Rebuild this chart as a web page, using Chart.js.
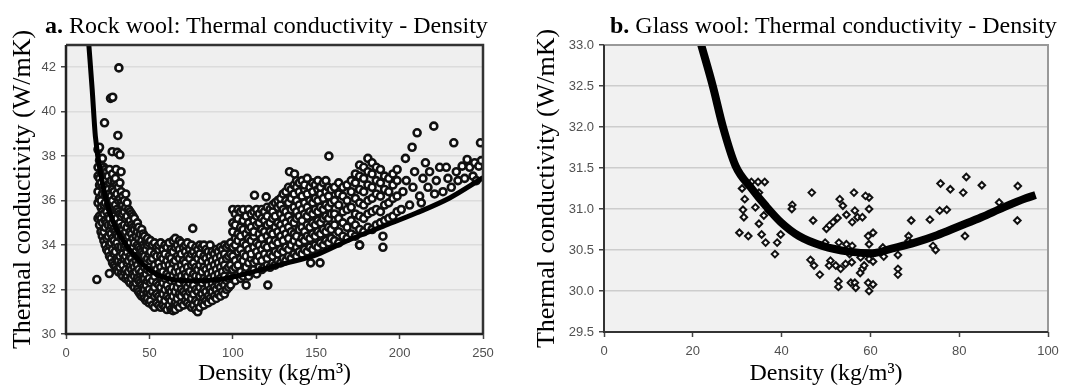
<!DOCTYPE html>
<html>
<head>
<meta charset="utf-8">
<script src="https://cdn.jsdelivr.net/npm/chart.js@4.4.0/dist/chart.umd.min.js"></script>
<style>
  html, body { margin: 0; padding: 0; background: #fff; }
  #wrap { position: relative; width: 1080px; height: 387px; overflow: hidden; }
  canvas { position: absolute; top: 0; }
  #cA { left: 0; width: 540px; height: 387px; }
  #cB { left: 515px; width: 565px; height: 387px; }
  .ttl { position: absolute; top: 13px; font-family: "Liberation Serif", "Times New Roman", serif;
         font-size: 24px; line-height: 24px; white-space: nowrap; color: #000; }
</style>
</head>
<body>
<div id="wrap">
  <canvas id="cA" width="540" height="387"></canvas>
  <canvas id="cB" width="565" height="387"></canvas>
  <div class="ttl" style="left:45px"><b>a.</b> Rock wool: Thermal conductivity - Density</div>
  <div class="ttl" style="left:610px"><b>b.</b> Glass wool: Thermal conductivity - Density</div>
</div>
<script>
// Теплопровідність мінвати (a) та скловати (b) залежно від густини.

const rockTicksX = [0, 50, 100, 150, 200, 250];
const rockTicksY = [30, 32, 34, 36, 38, 40, 42];
const glassTicksX = [0, 20, 40, 60, 80, 100];
const glassTicksY = [29.5, 30, 30.5, 31, 31.5, 32, 32.5, 33];

// Мінвата: колонки [густина, λ, λ, ...] — щільна хмара точок
const rockBranch = [
  [19.2, 35.2, 35.9, 36.4, 37.1, 37.5, 38.3],
  [20.1, 34.9, 35.3, 36.1, 36.7, 37.0, 37.8, 38.4],
  [21.0, 34.6, 35.2, 35.7, 36.0, 36.8, 37.3, 37.6],
  [21.8, 34.4, 35.0, 35.5, 36.3, 36.6, 37.2, 37.9],
  [22.7, 34.2, 34.6, 35.4, 35.8, 36.5, 37.0, 37.5],
  [23.5, 34.0, 34.8, 35.1, 35.9, 36.3, 36.9, 37.4],
  [24.4, 33.8, 34.3, 35.0, 35.5, 36.2, 36.6, 37.3],
  [25.3, 33.7, 34.4, 34.9, 35.3, 35.8, 36.5, 37.1],
  [26.1, 33.5, 34.0, 34.6, 35.2, 35.7, 36.3, 36.8, 37.4],
  [27.0, 33.4, 34.1, 34.5, 34.9, 35.6, 36.2, 36.9],
  [27.9, 33.2, 33.8, 34.3, 35.0, 35.4, 36.0, 36.5, 37.2],
  [28.8, 33.1, 33.6, 34.2, 34.7, 35.3, 35.7, 36.4, 36.9],
  [29.6, 33.0, 33.7, 34.0, 34.6, 35.1, 35.8, 36.2, 37.0],
  [30.5, 32.9, 33.4, 34.1, 34.5, 35.2, 35.6, 36.3, 36.7],
  [31.4, 32.8, 33.3, 33.9, 34.4, 34.9, 35.5, 36.0, 36.6],
  [32.3, 33.0, 33.5, 33.8, 34.6, 35.0, 35.4, 36.1, 36.8],
  [33.1, 32.7, 33.2, 33.9, 34.3, 34.8, 35.3, 35.9, 36.4],
  [34.0, 32.6, 33.1, 33.6, 34.2, 34.7, 35.4, 35.8, 36.2],
  [34.9, 32.8, 33.4, 33.9, 34.5, 34.9, 35.5, 36.0],
  [35.8, 32.5, 32.9, 33.5, 34.0, 34.6, 35.2, 35.7, 36.3],
  [36.6, 32.6, 33.2, 33.7, 34.3, 34.8, 35.3, 35.9],
  [37.5, 32.4, 32.8, 33.3, 33.9, 34.4, 35.0, 35.6],
  [38.4, 32.3, 33.0, 33.5, 34.1, 34.6, 35.1, 35.5],
  [39.3, 32.5, 32.9, 33.4, 33.8, 34.5, 34.9, 35.4],
  [40.1, 32.2, 32.7, 33.2, 33.9, 34.3, 34.8, 35.3],
  [41.0, 32.1, 32.6, 33.0, 33.6, 34.1, 34.7, 35.2],
  [41.9, 32.3, 32.8, 33.3, 33.7, 34.4, 34.9],
  [42.8, 32.0, 32.5, 33.1, 33.5, 34.0, 34.6, 35.0],
  [43.6, 31.9, 32.4, 32.9, 33.4, 33.9, 34.3, 34.8],
  [44.5, 31.8, 32.3, 32.7, 33.3, 33.8, 34.5],
  [45.4, 31.7, 32.2, 32.8, 33.2, 33.7, 34.2, 34.7],
  [46.3, 31.8, 32.1, 32.6, 33.1, 33.6, 34.0, 34.5],
  [47.1, 31.6, 32.0, 32.5, 33.0, 33.5, 33.9, 34.4],
  [48.0, 31.5, 32.2, 32.7, 33.2, 33.8, 34.2],
  [48.9, 31.6, 31.9, 32.4, 32.9, 33.4, 34.0, 34.3],
  [49.8, 31.4, 32.0, 32.5, 33.0, 33.6, 34.1],
];
const rockValley = [
  [50.7, 31.5, 31.8, 32.3, 32.8, 33.3, 33.7, 34.2],
  [51.9, 31.3, 31.9, 32.4, 32.9, 33.4, 34.0],
  [53.1, 31.2, 31.7, 32.1, 32.6, 33.1, 33.6, 34.1],
  [54.4, 31.4, 31.8, 32.3, 32.9, 33.5, 33.9],
  [55.6, 31.3, 31.7, 32.2, 32.7, 33.2, 33.8, 34.0],
  [56.8, 31.2, 31.6, 32.1, 32.6, 33.0, 33.5, 34.1],
  [58.1, 31.3, 31.8, 32.3, 32.8, 33.4, 33.8],
  [59.3, 31.2, 31.5, 32.0, 32.5, 33.1, 33.6, 34.0],
  [60.5, 31.1, 31.7, 32.2, 32.7, 33.3, 33.9],
  [61.8, 31.3, 31.6, 32.0, 32.6, 33.1, 33.5, 34.1],
  [63.0, 31.1, 31.5, 31.9, 32.4, 32.9, 33.4, 33.8],
  [64.2, 31.05, 31.7, 32.1, 32.6, 33.2, 33.7, 34.2],
  [65.5, 31.1, 31.4, 31.9, 32.4, 32.8, 33.3, 33.9, 34.3],
  [66.7, 31.3, 31.6, 32.1, 32.5, 33.0, 33.5, 34.0],
  [67.9, 31.2, 31.8, 32.3, 32.8, 33.4, 33.8, 34.2],
  [69.1, 31.4, 31.7, 32.0, 32.6, 33.1, 33.6, 34.1],
  [70.4, 31.3, 31.9, 32.4, 32.9, 33.3, 33.9],
  [71.6, 31.5, 31.8, 32.2, 32.7, 33.2, 33.7, 34.0],
  [72.8, 31.4, 31.7, 32.1, 32.6, 33.0, 33.5, 34.1],
  [74.1, 31.3, 31.9, 32.3, 32.8, 33.4, 33.8],
  [75.3, 31.2, 31.6, 32.0, 32.5, 33.1, 33.6, 34.0],
  [76.5, 31.3, 31.8, 32.2, 32.7, 33.2, 33.7],
  [77.8, 31.1, 31.5, 32.0, 32.6, 33.0, 33.5, 33.9],
  [79.0, 31.0, 31.4, 31.9, 32.4, 32.9, 33.4, 33.8],
  [80.2, 31.2, 31.7, 32.1, 32.6, 33.1, 33.6, 34.0],
  [81.5, 31.4, 31.8, 32.3, 32.8, 33.3, 33.9],
  [82.7, 31.3, 31.6, 32.0, 32.5, 33.0, 33.5, 34.0],
  [83.9, 31.5, 31.9, 32.4, 32.9, 33.4, 33.8],
  [85.2, 31.4, 31.7, 32.2, 32.7, 33.2, 33.7],
  [86.4, 31.6, 32.0, 32.5, 33.0, 33.5, 34.0],
  [87.6, 31.5, 31.9, 32.3, 32.8, 33.3, 33.7],
  [88.9, 31.7, 32.1, 32.6, 33.1, 33.6],
  [90.1, 31.6, 32.0, 32.4, 32.9, 33.4, 33.8],
  [91.3, 31.8, 32.2, 32.7, 33.2, 33.7],
  [92.6, 31.7, 32.1, 32.5, 33.0, 33.5, 33.9],
  [93.8, 31.9, 32.3, 32.8, 33.3, 33.8],
  [95.0, 31.8, 32.2, 32.6, 33.1, 33.6, 34.0],
  [96.3, 32.0, 32.4, 32.9, 33.4, 33.9],
  [97.5, 32.1, 32.5, 33.0, 33.5, 34.0],
  [98.7, 32.2, 32.6, 33.1, 33.6, 34.1],
];
const rockRight = [
  [100.0, 32.5, 32.9, 33.5, 33.9, 34.6, 35.0, 35.6],
  [101.5, 32.4, 33.0, 33.3, 34.0, 34.3, 34.9, 35.4],
  [103.1, 32.7, 33.1, 33.7, 34.2, 34.5, 35.2, 35.6],
  [104.7, 32.5, 32.8, 33.4, 33.8, 34.4, 34.8, 35.5],
  [106.2, 32.6, 33.3, 33.6, 34.1, 34.7, 35.1, 35.6],
  [107.9, 32.8, 33.0, 33.5, 34.0, 34.5, 35.3],
  [109.5, 32.6, 33.2, 33.8, 34.3, 34.7, 35.0, 35.6],
  [111.0, 32.8, 33.4, 33.6, 34.2, 34.8, 35.4],
  [112.6, 32.9, 33.2, 33.9, 34.4, 34.6, 35.1, 35.5],
  [114.3, 32.7, 33.3, 33.7, 34.1, 34.9, 35.3, 35.6],
  [115.8, 33.0, 33.5, 34.0, 34.5, 35.0, 35.4],
  [117.4, 32.9, 33.3, 33.8, 34.3, 34.7, 35.2, 35.6],
  [119.0, 33.0, 33.6, 34.0, 34.6, 35.1, 35.5],
  [120.6, 33.1, 33.4, 33.9, 34.4, 34.9, 35.3, 35.7],
  [122.3, 33.0, 33.6, 34.2, 34.6, 35.0, 35.6],
  [123.9, 33.2, 33.5, 34.0, 34.5, 35.2, 35.5, 35.8],
  [125.4, 33.1, 33.7, 34.2, 34.8, 35.3, 35.9],
  [127.0, 33.3, 33.6, 34.1, 34.6, 35.0, 35.7, 36.0],
  [128.7, 33.2, 33.8, 34.4, 34.9, 35.4, 35.8, 36.1],
  [130.2, 33.4, 33.7, 34.2, 34.7, 35.2, 35.6, 36.3],
  [131.8, 33.3, 33.9, 34.5, 35.0, 35.5, 36.0, 36.4],
  [133.4, 33.5, 33.8, 34.3, 34.8, 35.3, 35.9, 36.6],
  [135.0, 33.4, 34.0, 34.6, 35.1, 35.6, 36.1, 36.5],
  [136.7, 33.6, 34.2, 34.5, 35.0, 35.7, 36.3, 36.7],
  [138.2, 33.5, 33.9, 34.4, 35.2, 35.5, 36.0, 36.6, 36.9],
  [139.8, 33.7, 34.1, 34.7, 35.3, 35.8, 36.4, 36.8],
  [141.5, 33.6, 34.3, 34.8, 35.1, 35.6, 36.2, 36.9],
  [143.0, 33.8, 34.2, 34.6, 35.4, 35.9, 36.5, 36.7],
  [144.6, 33.7, 34.4, 34.9, 35.3, 35.7, 36.3, 37.0],
  [146.2, 33.9, 34.3, 34.8, 35.5, 36.0, 36.6],
  [147.9, 33.8, 34.5, 35.0, 35.4, 35.9, 36.4, 36.8],
  [149.4, 34.0, 34.4, 34.9, 35.6, 36.1, 36.7],
  [151.0, 33.9, 34.6, 35.1, 35.5, 36.0, 36.5, 36.9],
  [152.6, 34.1, 34.5, 35.0, 35.7, 36.3, 36.6],
  [154.3, 34.0, 34.7, 35.2, 35.6, 36.1, 36.8],
  [155.8, 34.2, 34.6, 35.3, 35.8, 36.4, 36.9],
  [157.4, 34.1, 34.8, 35.2, 35.7, 36.2, 36.6],
  [159.0, 34.3, 34.7, 35.4, 35.9, 36.5],
  [161.0, 34.2, 34.9, 35.4, 36.0, 36.6],
  [163.5, 34.1, 34.6, 35.2, 35.8, 36.3, 36.8],
  [166.0, 34.4, 35.0, 35.5, 36.2, 36.6],
  [168.5, 34.3, 34.8, 35.6, 36.0, 36.7],
  [171.0, 34.5, 35.1, 35.7, 36.4, 36.9],
  [173.5, 34.4, 34.9, 35.4, 36.1, 36.8, 37.2],
  [176.0, 34.0, 34.7, 35.3, 35.9, 36.5, 37.1, 37.6],
  [178.5, 34.6, 35.2, 35.8, 36.4, 37.0, 37.5],
  [181.0, 34.8, 35.4, 36.0, 36.7, 37.3, 37.9],
  [183.5, 34.7, 35.5, 36.1, 36.6, 37.2, 37.7],
  [186.0, 34.9, 35.6, 36.3, 36.9, 37.5],
  [188.5, 35.0, 35.5, 36.2, 36.8, 37.4],
  [191.0, 35.1, 35.8, 36.5, 37.1],
  [193.5, 35.2, 35.9, 36.4, 37.0],
  [196.0, 35.3, 36.1, 36.7, 37.2],
  [198.5, 35.5, 36.2, 36.9, 37.4],
];
// окремі точки [густина, λ]
const rockSparse = [
  [201, 35.6], [202, 36.4], [203.5, 37.9], [204, 36.9], [206, 35.8], [207.5, 38.4],
  [208, 36.6], [209, 37.3], [210.5, 39.05], [212, 36.2], [213, 35.9], [214, 37.0],
  [215.5, 37.7], [217, 36.6], [218, 37.3], [220.5, 39.35], [221, 36.3], [222, 36.9],
  [224, 37.5], [226, 36.4], [228, 37.5], [229, 37.0], [231, 36.6], [232.5, 38.6],
  [234, 37.3], [235, 36.9], [237.5, 37.55], [239, 37.0], [240.5, 37.85], [242, 37.5],
  [244, 37.1], [245, 37.7], [246, 36.9], [247.5, 37.55], [248.5, 38.6], [249, 37.8],
];
const rockOutliers = [
  [18.5, 32.45], [26, 32.72], [31.7, 41.97], [26.7, 40.6], [28, 40.65], [23.1, 39.5],
  [31.1, 38.93], [27.7, 38.2], [30.7, 38.17], [32.3, 38.06], [30, 37.4], [33, 37.3],
  [76, 34.75], [113, 36.24], [120, 36.17], [108, 32.2], [121, 32.2], [134, 37.3],
  [137, 37.2], [157.6, 38.0], [146.7, 33.2], [152.3, 33.2], [176, 34.0], [190, 33.9],
  [190, 34.4],
];
const rockFitX = [13.7, 15.7, 17.6, 21.6, 26.5, 34.3, 44, 54, 64, 72, 82, 92, 102, 115, 130, 150, 170, 190, 210, 230, 250];
const rockFitY = [43.0, 41.0, 38.9, 36.9, 35.4, 34.2, 33.3, 32.7, 32.45, 32.4, 32.4, 32.45, 32.6, 32.85, 33.15, 33.56, 34.24, 34.84, 35.44, 36.12, 37.03];

// Скловата: [густина, λ]
const glassPoints = [
  [33.2, 31.33], [34.7, 31.33], [36.2, 31.33], [31.1, 31.25], [31.7, 31.12], [31.3, 30.99],
  [31.5, 30.90], [34.1, 31.02], [34.9, 31.20], [36.0, 30.92], [37.1, 30.98], [30.5, 30.71],
  [32.5, 30.67], [34.9, 30.82], [35.5, 30.69], [36.4, 30.59], [39.0, 30.59], [38.5, 30.45],
  [39.8, 30.69], [42.4, 31.05], [42.3, 31.00], [46.8, 31.20], [47.1, 30.86], [53.1, 31.12],
  [53.8, 31.04], [54.6, 30.93], [56.3, 31.20], [56.5, 30.98], [57.1, 30.90], [58.2, 30.90],
  [55.9, 30.84], [59.7, 31.14], [59.7, 31.00], [50.1, 30.76], [50.8, 30.80], [51.6, 30.84],
  [52.6, 30.89], [49.8, 30.59], [52.9, 30.59], [54.6, 30.57], [55.9, 30.55], [59.5, 30.67],
  [59.7, 30.57], [46.5, 30.38], [47.3, 30.31], [48.6, 30.20], [51.0, 30.37], [50.7, 30.31],
  [52.2, 30.31], [53.3, 30.27], [54.4, 30.33], [55.8, 30.35], [55.3, 30.45], [57.8, 30.41],
  [58.2, 30.27], [58.6, 30.31], [59.7, 30.39], [52.8, 30.12], [52.8, 30.05], [55.6, 30.10],
  [56.5, 30.10], [56.7, 30.04], [59.5, 30.10], [59.7, 30.00], [58.9, 31.16], [57.7, 30.22],
  [60.6, 30.71], [62.8, 30.53], [63.0, 30.42], [60.6, 30.36], [60.6, 30.08], [66.2, 30.44],
  [66.2, 30.27], [66.2, 30.20], [68.6, 30.67], [68.6, 30.61], [69.2, 30.86], [73.4, 30.87],
  [74.1, 30.55], [74.7, 30.50], [75.6, 30.98], [77.2, 30.99], [75.8, 31.31], [78.0, 31.24],
  [80.9, 31.20], [81.6, 31.39], [85.1, 31.29], [81.3, 30.67], [89.0, 31.08], [93.2, 31.28],
  [93.1, 30.86],
];
const glassFitX = [21.9, 24.5, 26.8, 29.6, 33.4, 36.4, 39.8, 43.9, 49.2, 55.2, 60.4, 65, 70, 75, 80, 85, 90, 95, 97.2];
const glassFitY = [33.0, 32.5, 32.0, 31.53, 31.24, 31.04, 30.84, 30.67, 30.55, 30.48, 30.46, 30.52, 30.59, 30.68, 30.79, 30.9, 31.02, 31.13, 31.17];

const fromColumns = cols => cols.flatMap(([x, ...ys]) => ys.map(y => ({ x, y })));
const fromPairs = list => list.map(([x, y]) => ({ x, y }));
const zip = (xs, ys) => xs.map((x, i) => ({ x, y: ys[i] }));

// Сірий фон області графіка та рамка навколо неї
const framePlugin = {
  id: "frame",
  beforeDraw(chart, args, o) {
    const { ctx, chartArea: a } = chart;
    ctx.save();
    ctx.fillStyle = o.bg;
    ctx.fillRect(a.left, a.top, a.right - a.left, a.bottom - a.top);
    ctx.restore();
  },
  afterDatasetsDraw(chart, args, o) {
    const { ctx, chartArea: a } = chart;
    ctx.save();
    ctx.lineWidth = o.width;
    ctx.strokeStyle = o.far;
    ctx.beginPath(); ctx.moveTo(a.left, a.top); ctx.lineTo(a.right, a.top); ctx.lineTo(a.right, a.bottom); ctx.stroke();
    ctx.strokeStyle = o.near;
    ctx.beginPath(); ctx.moveTo(a.left, a.top); ctx.lineTo(a.left, a.bottom); ctx.lineTo(a.right, a.bottom); ctx.stroke();
    ctx.restore();
  },
};

const serif = "'Liberation Serif', 'Times New Roman', serif";
const sans = "'Liberation Sans', Arial, sans-serif";

function makeChart(el, c) {
  return new Chart(el, {
    type: "scatter",
    data: {
      datasets: [
        { data: zip(c.fitX, c.fitY), showLine: true, borderColor: "#000", borderWidth: c.fitWidth,
          pointRadius: 0, cubicInterpolationMode: "monotone", order: 0 },
        { data: c.points, pointStyle: c.marker, pointRadius: c.r, borderWidth: c.bw,
          borderColor: "#111", backgroundColor: "#fff", order: 1 },
      ],
    },
    options: {
      responsive: false,
      animation: false,
      events: [],
      layout: { padding: { top: 45, right: c.padRight, left: 0, bottom: 0 } },
      plugins: {
        legend: { display: false },
        tooltip: { enabled: false },
        frame: c.frame,
      },
      scales: {
        x: {
          type: "linear", min: c.ticksX[0], max: c.ticksX[c.ticksX.length - 1],
          afterBuildTicks: s => { s.ticks = c.ticksX.map(value => ({ value })); },
          afterFit: s => { s.height = c.xH; },
          grid: { drawOnChartArea: false, tickLength: 5, tickColor: "#444", tickWidth: 1.5 },
          border: { display: false },
          ticks: { color: "#505050", font: { family: sans, size: 13 }, padding: 7, maxRotation: 0 },
          title: { display: true, text: "Density (kg/m³)", color: "#000",
                   font: { family: serif, size: 24, lineHeight: 1 }, padding: { top: 0, bottom: 1.5 } },
        },
        y: {
          type: "linear", min: c.ticksY[0], max: c.yMax,
          afterBuildTicks: s => { s.ticks = c.ticksY.map(value => ({ value })); },
          afterFit: s => { s.width = c.yW; },
          grid: { color: c.gridColor, lineWidth: 1.5, tickLength: 5, tickColor: "#444", tickWidth: 1.5 },
          border: { display: false },
          ticks: { color: "#505050", font: { family: sans, size: 13 }, padding: 5, callback: c.fmtY },
          title: { display: true, text: "Thermal conductivity (W/mK)", color: "#000",
                   font: { family: serif, size: 26, lineHeight: 1.2 }, padding: { top: c.yTitlePad, bottom: 0 } },
        },
      },
    },
    plugins: [framePlugin],
  });
}

makeChart(document.getElementById("cA"), {
  points: [...fromColumns(rockBranch), ...fromColumns(rockValley), ...fromColumns(rockRight),
           ...fromPairs(rockSparse), ...fromPairs(rockOutliers)],
  fitX: rockFitX, fitY: rockFitY, fitWidth: 5,
  marker: "circle", r: 3.5, bw: 2.6,
  ticksX: rockTicksX, ticksY: rockTicksY, yMax: 43, fmtY: v => v,
  padRight: 57, xH: 53, yW: 66, yTitlePad: 7.5,
  gridColor: "#dcdcdc",
  frame: { bg: "#efefef", near: "#222", far: "#333", width: 2.5 },
});

makeChart(document.getElementById("cB"), {
  points: fromPairs(glassPoints),
  fitX: glassFitX, fitY: glassFitY, fitWidth: 8,
  marker: "rectRot", r: 3.3, bw: 2,
  ticksX: glassTicksX, ticksY: glassTicksY, yMax: 33, fmtY: v => v.toFixed(1),
  padRight: 32, xH: 55, yW: 89, yTitlePad: 17,
  gridColor: "#cdcdcd",
  frame: { bg: "#f1f1f1", near: "#333", far: "#999", width: 2 },
});
</script>
</body>
</html>
